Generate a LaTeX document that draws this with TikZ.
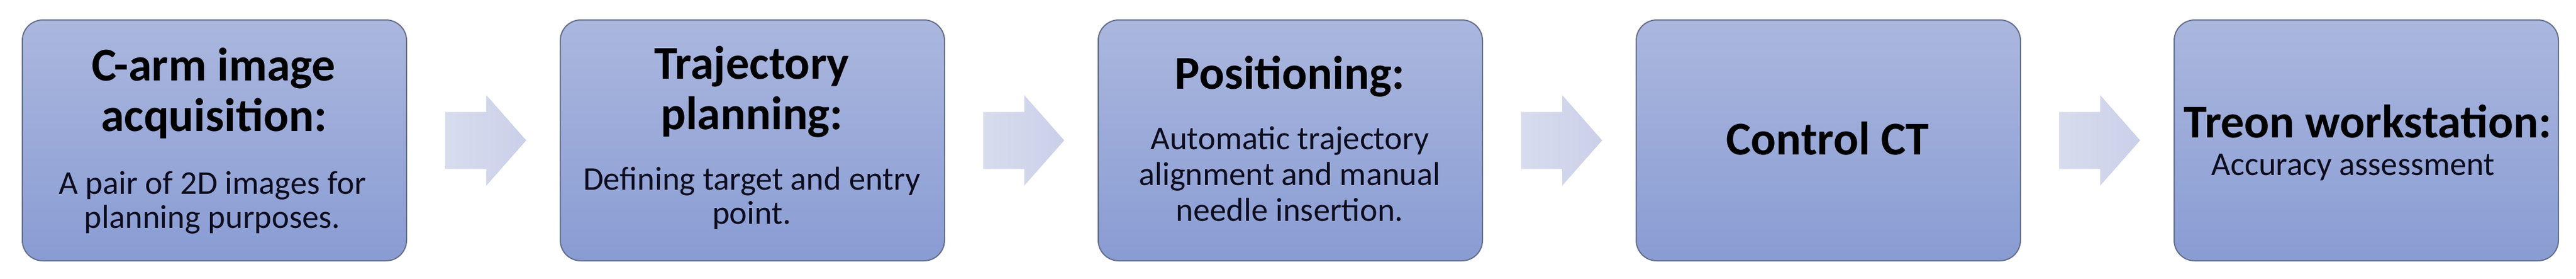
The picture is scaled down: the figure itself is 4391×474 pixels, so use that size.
\documentclass[tikz,border=0pt]{standalone}
\usepackage{fontspec}
\setmainfont{Carlito}
\usetikzlibrary{calc}
\definecolor{boxtop}{RGB}{171,183,222}
\definecolor{boxbot}{RGB}{137,156,211}
\definecolor{boxline}{RGB}{100,110,138}
\definecolor{arrowleft}{RGB}{216,220,238}
\definecolor{arrowright}{RGB}{202,208,233}
\definecolor{ink}{RGB}{12,12,30}
\newcommand{\flowarrow}[2]{%
  \coordinate (m#1#2) at ($(#1.east)!0.5!(#2.west)$);
  \path[left color=arrowleft, right color=arrowright]
    ($(m#1#2)+(-65,-48.5)$) -- ($(m#1#2)+(5,-48.5)$) -- ($(m#1#2)+(5,-77)$)
    -- ($(m#1#2)+(73,0)$) -- ($(m#1#2)+(5,77)$) -- ($(m#1#2)+(5,48.5)$)
    -- ($(m#1#2)+(-65,48.5)$) -- cycle;}
\begin{document}
\begin{tikzpicture}[x=1pt,y=-1pt,
  stepbox/.style={draw=boxline, line width=2pt, rounded corners=35pt,
    top color=boxtop, bottom color=boxbot, minimum width=655pt,
    minimum height=410pt, inner sep=0pt, anchor=north west},
  titletext/.style={font=\fontsize{80}{88}\selectfont\bfseries, anchor=base,
    text=black, inner sep=0pt},
  bodytext/.style={font=\fontsize{56.5}{61}\selectfont, anchor=base,
    text=ink, inner sep=0pt}]
\useasboundingbox[fill=white] (0,0) rectangle (4391,474);
% boxes
\node[stepbox] (b1) at (37,33) {};
\node[stepbox] (b2) at (954,33) {};
\node[stepbox] (b3) at (1871,33) {};
\node[stepbox] (b4) at (2788,33) {};
\node[stepbox] (b5) at (3705,33) {};
% box 1
\node[titletext] (b1t1) at (364.5,137) {C-arm image};
\node[titletext] (b1t2) at (364.5,223) {acquisition:};
\node[bodytext] (b1d1) at (362,330) {A pair of 2D images for};
\node[bodytext] (b1d2) at (362,388) {planning purposes.};
% box 2
\node[titletext] (b2t1) at (1281.5,134) {Trajectory};
\node[titletext] (b2t2) at (1281.5,220) {planning:};
\node[bodytext] (b2d1) at (1281.5,323) {Defining target and entry};
\node[bodytext] (b2d2) at (1281.5,381) {point.};
% box 3
\node[titletext] (b3t1) at (2198.5,151) {Positioning:};
\node[bodytext] (b3d1) at (2198.5,254) {Automatic trajectory};
\node[bodytext] (b3d2) at (2198.5,315) {alignment and manual};
\node[bodytext] (b3d3) at (2198.5,376) {needle insertion.};
% box 4
\node[titletext] (b4t1) at (3115.5,263) {Control CT};
% box 5
\node[titletext] (b5t1) at (4036,234) {Treon workstation:};
\node[bodytext] (b5d1) at (4011,298) {Accuracy assessment};
% arrows
\flowarrow{b1}{b2}
\flowarrow{b2}{b3}
\flowarrow{b3}{b4}
\flowarrow{b4}{b5}
\end{tikzpicture}
\end{document}
